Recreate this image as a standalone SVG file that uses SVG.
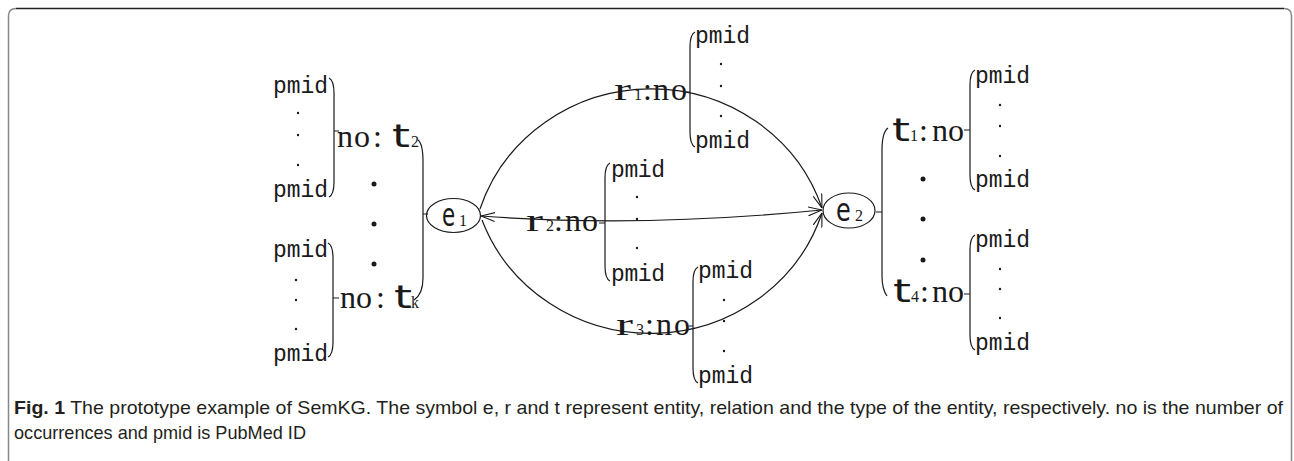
<svg xmlns="http://www.w3.org/2000/svg" width="1294" height="461" viewBox="0 0 1294 461">
<style>
.ln{fill:none;stroke:#1a1a1a;stroke-width:1.2}
.pm{font-family:"Liberation Mono",monospace;font-size:23px;fill:#1a1a1a}
.lb{font-family:"Liberation Serif",serif;font-size:32px;fill:#1a1a1a}
.sf{font-family:"DejaVu Sans",sans-serif;font-size:32px;fill:#1a1a1a}
.sb{font-family:"Liberation Serif",serif;font-size:16px;fill:#1a1a1a}
.dt{fill:#1a1a1a}
.cap{font-family:"Liberation Sans",sans-serif;font-size:19px;fill:#231f20}
</style>
<defs>
<marker id="ah" viewBox="0 0 14 10" refX="14" refY="5" markerWidth="14" markerHeight="10" markerUnits="userSpaceOnUse" orient="auto-start-reverse">
<path d="M0,0.5 L14,5 L0,9.5" fill="none" stroke="#1a1a1a" stroke-width="1.1"/>
</marker>
</defs>
<rect width="1294" height="461" fill="#fff"/>
<g id="frame">
<path d="M8.5,461 L8.5,16 Q8.5,8.5 16,8.5" fill="none" stroke="#888" stroke-width="1.5"/>
<path d="M16,8.5 L1284,8.5" fill="none" stroke="#222" stroke-width="1.5"/>
<path d="M1284,8.5 Q1291.5,8.5 1291.5,16 L1291.5,461" fill="none" stroke="#888" stroke-width="1.5"/>
</g>
<g id="connectors">
<path class="ln" d="M480,209 A180,174 0 0 1 822,208" marker-end="url(#ah)"/>
<path class="ln" d="M481,216 Q640,228 822,210" marker-start="url(#ah)" marker-end="url(#ah)"/>
<path class="ln" d="M482,220 A180,174 0 0 0 822,213" marker-end="url(#ah)"/>
</g>
<g id="pmid-t2">
<text class="pm" x="273" y="93" textLength="55">pmid</text>
<circle class="dt" cx="298" cy="113" r="1.2"/><circle class="dt" cx="298" cy="135" r="1.2"/><circle class="dt" cx="298" cy="165" r="1.2"/>
<text class="pm" x="273" y="197" textLength="55">pmid</text>
<path class="ln" d="M329,78 C333,80 334,85 334,93 L334,182 C334,190 333,195 329,197 M334,131 L339,131"/>
</g>
<g id="pmid-tk">
<text class="pm" x="273" y="257" textLength="55">pmid</text>
<circle class="dt" cx="296" cy="280" r="1.2"/><circle class="dt" cx="296" cy="300" r="1.2"/><circle class="dt" cx="296" cy="329" r="1.2"/>
<text class="pm" x="273" y="361" textLength="55">pmid</text>
<path class="ln" d="M328,243 C332,245 333,250 333,258 L333,342 C333,350 332,355 328,357 M333,298 L339,298"/>
</g>
<g id="types-e1">
<text class="lb" x="337" y="147" textLength="33">no</text>
<text class="lb" x="373" y="147">:</text>
<text class="sf" x="392" y="147" textLength="18" lengthAdjust="spacingAndGlyphs">t</text>
<text class="sb" x="411" y="147">2</text>
<circle class="dt" cx="374" cy="184" r="2.5"/><circle class="dt" cx="374" cy="224" r="2.5"/><circle class="dt" cx="374" cy="264" r="2.5"/>
<text class="lb" x="340" y="308" textLength="32">no</text>
<text class="lb" x="376" y="308">:</text>
<text class="sf" x="394" y="308" textLength="18" lengthAdjust="spacingAndGlyphs">t</text>
<text class="sb" x="411" y="308">k</text>
<path class="ln" d="M418,140 C422,143 423,150 423,162 L423,278 C423,290 420,296 414,300 M423,214 L428,214"/>
</g>
<g id="e1">
<ellipse class="ln" cx="453.5" cy="215.5" rx="27" ry="17"/>
<text class="sf" font-size="34" transform="translate(442,226) scale(0.67,1)">e</text>
<text class="sb" x="459" y="226">1</text>
</g>
<g id="r1">
<text class="lb" x="614" y="100" textLength="17" lengthAdjust="spacingAndGlyphs">r</text>
<text class="sb" x="634" y="100">1</text>
<text class="lb" x="643" y="100">:</text>
<text class="lb" x="653" y="100" textLength="34">no</text>
<path class="ln" d="M695,32 C691,34 690,39 690,47 L690,132 C690,140 691,145 695,147 M686,92 L690,92"/>
<text class="pm" x="695" y="43" textLength="55">pmid</text>
<circle class="dt" cx="721" cy="64" r="1.2"/><circle class="dt" cx="721" cy="86" r="1.2"/><circle class="dt" cx="721" cy="116" r="1.2"/>
<text class="pm" x="695" y="148" textLength="55">pmid</text>
</g>
<g id="r2">
<text class="lb" x="526" y="231" textLength="17" lengthAdjust="spacingAndGlyphs">r</text>
<text class="sb" x="546" y="231">2</text>
<text class="lb" x="554" y="231">:</text>
<text class="lb" x="565" y="231" textLength="33">no</text>
<path class="ln" d="M610,163 C606,165 605,170 605,178 L605,266 C605,274 606,279 610,281 M599,223 L605,223"/>
<text class="pm" x="611" y="177" textLength="54">pmid</text>
<circle class="dt" cx="637" cy="197" r="1.2"/><circle class="dt" cx="637" cy="219" r="1.2"/><circle class="dt" cx="637" cy="248" r="1.2"/>
<text class="pm" x="611" y="281" textLength="54">pmid</text>
</g>
<g id="r3">
<text class="lb" x="616" y="335" textLength="17" lengthAdjust="spacingAndGlyphs">r</text>
<text class="sb" x="636" y="335">3</text>
<text class="lb" x="645" y="335">:</text>
<text class="lb" x="656" y="335" textLength="34">no</text>
<path class="ln" d="M698,267 C694,269 693,274 693,282 L693,368 C693,376 694,381 698,383 M689,326 L693,326"/>
<text class="pm" x="698" y="278" textLength="55">pmid</text>
<circle class="dt" cx="724" cy="300" r="1.2"/><circle class="dt" cx="724" cy="321" r="1.2"/><circle class="dt" cx="724" cy="351" r="1.2"/>
<text class="pm" x="698" y="383" textLength="55">pmid</text>
</g>
<g id="e2">
<ellipse class="ln" cx="849" cy="210.5" rx="26" ry="17.5"/>
<text class="sf" font-size="34" transform="translate(836,221) scale(0.75,1)">e</text>
<text class="sb" x="855" y="221">2</text>
</g>
<g id="types-e2">
<path class="ln" d="M888,128 C884,131 882,138 882,150 L882,276 C882,287 884,292 887,296 M876,212 L882,212"/>
<text class="sf" x="892" y="141" textLength="18" lengthAdjust="spacingAndGlyphs">t</text>
<text class="sb" x="910" y="141">1</text>
<text class="lb" x="919" y="141">:</text>
<text class="lb" x="932" y="141" textLength="32">no</text>
<circle class="dt" cx="923" cy="179" r="2.5"/><circle class="dt" cx="923" cy="219" r="2.5"/><circle class="dt" cx="923" cy="260" r="2.5"/>
<text class="sf" x="893" y="302" textLength="18" lengthAdjust="spacingAndGlyphs">t</text>
<text class="sb" x="911" y="302">4</text>
<text class="lb" x="920" y="302">:</text>
<text class="lb" x="932" y="302" textLength="32">no</text>
</g>
<g id="pmid-t1">
<path class="ln" d="M975,70 C971,72 970,77 970,85 L970,175 C970,183 971,188 975,190 M964,130 L970,130"/>
<text class="pm" x="975" y="83" textLength="55">pmid</text>
<circle class="dt" cx="1000" cy="105" r="1.2"/><circle class="dt" cx="1000" cy="126" r="1.2"/><circle class="dt" cx="1000" cy="156" r="1.2"/>
<text class="pm" x="975" y="187" textLength="55">pmid</text>
</g>
<g id="pmid-t4">
<path class="ln" d="M975,235 C971,237 970,242 970,250 L970,335 C970,343 971,348 975,350 M964,294 L970,294"/>
<text class="pm" x="975" y="247" textLength="55">pmid</text>
<circle class="dt" cx="1000" cy="269" r="1.2"/><circle class="dt" cx="1000" cy="289" r="1.2"/><circle class="dt" cx="1000" cy="318" r="1.2"/>
<text class="pm" x="975" y="350" textLength="55">pmid</text>
</g>
<g id="caption">
<text class="cap" x="14" y="414" textLength="1269" lengthAdjust="spacingAndGlyphs"><tspan font-weight="bold">Fig. 1</tspan> The prototype example of SemKG. The symbol e, r and t represent entity, relation and the type of the entity, respectively. no is the number of</text>
<text class="cap" x="14" y="439" textLength="292" lengthAdjust="spacingAndGlyphs">occurrences and pmid is PubMed ID</text>
</g>
</svg>
